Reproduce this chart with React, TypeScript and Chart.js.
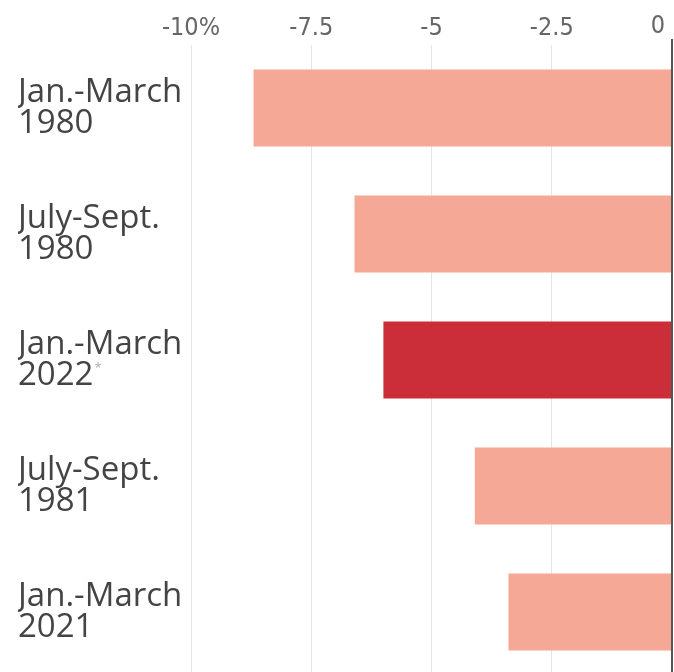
import React, { useEffect, useRef } from "react";
import { Chart, registerables } from "chart.js";

Chart.register(...registerables);

const categories: string[][] = [
  ["Jan.-March", "1980"],
  ["July-Sept.", "1980"],
  ["Jan.-March", "2022"],
  ["July-Sept.", "1981"],
  ["Jan.-March", "2021"],
];
const values: number[] = [-8.7, -6.6, -6.0, -4.1, -3.4];
const highlighted: boolean[] = [false, false, true, false, false];
const footnoteMarks: string[] = ["", "", "*", "", ""];
const xTicks: number[] = [-10, -7.5, -5, -2.5, 0];
const xTickLabels: string[] = ["-10%", "-7.5", "-5", "-2.5", "0"];

const LIGHT = "#f4a895";
const DARK = "#cb2d39";
const LABEL_FONT = { family: "'Open Sans', sans-serif", size: 33, lineHeight: 0.92 };
const TICK_FONT = { family: "'Liberation Sans Narrow', 'DejaVu Sans Condensed', Roboto, sans-serif", size: 25 };

const extrasPlugin = {
  id: "extras",
  afterDatasetsDraw(chart: any) {
    const ctx = chart.ctx;
    const x = chart.scales.x;
    const zx = x.getPixelForValue(0);
    ctx.save();
    ctx.strokeStyle = "#555";
    ctx.lineWidth = 2;
    ctx.beginPath();
    ctx.moveTo(zx, chart.chartArea.top - 6);
    ctx.lineTo(zx, chart.chartArea.bottom);
    ctx.stroke();
    ctx.restore();
  },
  afterDraw(chart: any) {
    const ctx = chart.ctx;
    const x = chart.scales.x;
    const y = chart.scales.y;
    ctx.save();
    const lastIdx = xTicks.length - 1;
    ctx.font = `${TICK_FONT.size}px ${TICK_FONT.family}`;
    ctx.fillStyle = "#666";
    ctx.textAlign = "right";
    ctx.textBaseline = "middle";
    const tx = x.getPixelForValue(xTicks[lastIdx]) - 7;
    const ty = (x.top + x.bottom) / 2;
    ctx.fillText(xTickLabels[lastIdx], tx, ty);
    footnoteMarks.forEach((m, i) => {
      if (!m) return;
      const lines = categories[i];
      ctx.font = `${LABEL_FONT.size}px ${LABEL_FONT.family}`;
      const w = ctx.measureText(lines[lines.length - 1]).width;
      const cy = y.getPixelForValue(i);
      ctx.font = `13px ${LABEL_FONT.family}`;
      ctx.fillStyle = "#aaa";
      ctx.textAlign = "left";
      ctx.textBaseline = "top";
      ctx.fillText(m, y.left + w + 1, cy + 2);
    });
    ctx.restore();
  },
};

export default function App() {
  const ref = useRef<HTMLCanvasElement | null>(null);
  useEffect(() => {
    if (!ref.current) return;
    const chart = new Chart(ref.current, {
      type: "bar",
      data: {
        labels: categories,
        datasets: [
          {
            data: values,
            backgroundColor: highlighted.map((h) => (h ? DARK : LIGHT)),
            borderWidth: 0,
            categoryPercentage: 1,
            barPercentage: 0.61,
          },
        ],
      },
      options: {
        indexAxis: "y",
        animation: false,
        responsive: false,
        layout: { padding: { left: 10, right: 2, top: 0, bottom: 1 } },
        plugins: { legend: { display: false }, tooltip: { enabled: false } },
        scales: {
          x: {
            position: "top",
            min: -10,
            max: 0,
            afterBuildTicks: (scale: any) => {
              scale.ticks = xTicks.map((v) => ({ value: v }));
            },
            afterFit: (scale: any) => {
              scale.height = 37;
              scale.paddingLeft = 0;
              scale.paddingRight = 0;
            },
            border: { display: false },
            grid: {
              drawTicks: false,
              color: (c: any) => (c.tick && c.tick.value === 0 ? "rgba(0,0,0,0)" : "#e4e4e4"),
              lineWidth: 1,
            },
            ticks: {
              padding: 2,
              color: "#666",
              font: TICK_FONT,
              callback: (v: any) => {
                const i = xTicks.indexOf(Number(v));
                return i === xTicks.length - 1 ? "" : xTickLabels[i];
              },
            },
          },
          y: {
            afterFit: (scale: any) => {
              scale.width = 173;
              scale.paddingTop = 0;
              scale.paddingBottom = 0;
            },
            border: { display: false },
            grid: { display: false, drawTicks: false },
            ticks: {
              crossAlign: "far",
              color: "#444",
              font: LABEL_FONT,
              padding: 8,
            },
          },
        },
      },
      plugins: [extrasPlugin],
    });
    return () => chart.destroy();
  }, []);
  return (
    <div
      style={{
        position: "fixed",
        top: 8,
        left: 8,
        width: 666,
        height: 664,
        overflow: "hidden",
      }}
    >
      <canvas ref={ref} width={666} height={668} style={{ display: "block" }} />
    </div>
  );
}
